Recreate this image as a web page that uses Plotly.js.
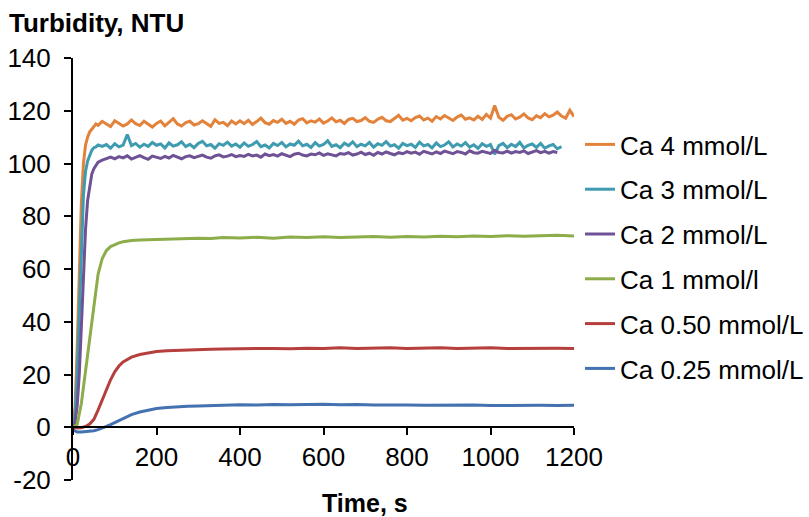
<!DOCTYPE html>
<html><head><meta charset="utf-8">
<script src="https://cdn.plot.ly/plotly-3.0.1.min.js"></script>
<style>html,body{margin:0;padding:0;background:#fff}#chart{width:809px;height:517px}</style>
</head><body><div id="chart"></div>
<script>
// Time grid for the noisy (fast) series, s
const tNoisy = [0,5,10,15,20,25,30,35,40,45,50,55,60,
70,80,90,100,110,120,130,140,150,160,170,180,190,200,210,220,230,240,250,260,270,280,290,300,310,320,330,340,350,360,370,380,390,400,
410,420,430,440,450,460,470,480,490,500,510,520,530,540,550,560,570,580,590,600,610,620,630,640,650,660,670,680,690,700,710,720,730,740,750,760,770,780,790,800,
810,820,830,840,850,860,870,880,890,900,910,920,930,940,950,960,970,980,990,1000,1010,1020,1030,1040,1050,1060,1070,1080,1090,1100,1110,1120,1130,1140,1150,1160,1170,1180,1190,1200];
// Time grid for the smooth series, s
const tSmooth = [0,10,20,30,40,50,60,70,80,90,100,110,120,140,160,180,200,225,250,275,300,330,360,400,440,480,520,560,600,640,680,720,760,800,840,880,920,960,1000,1040,1080,1120,1160,1200];

const ca4 = [0,8,30,60,85,100,107,110,112,113,114,115,114.5,
116,115,114,116.2,115.3,114.2,115,116.5,115.1,114.4,116,115,113.8,115.2,116.1,114.3,115.6,117,115,114.2,115.5,116,114.6,115.1,116.2,115,114.1,116.6,115.2,115.6,114.3,116.1,115,116.2,
115.1,116.4,114.8,115.9,117.2,115.5,114.9,116.3,115.6,116.8,115.2,116,114.9,116.5,117,115.4,116.2,115.7,116.9,115.3,116.1,117.3,115.8,116.4,115.2,116.7,117.1,115.9,116.3,117.4,116,115.6,116.8,117.5,116.2,115.9,117,118.3,116.4,117.1,
116.2,117.4,118,116.5,117.2,116,117.8,116.9,118.2,117.1,116.3,117.6,118.4,116.8,117.3,116.5,117.9,116.7,118.6,117.2,122,117.5,116.4,117.9,118.5,116.9,117.6,118.8,117.3,116.6,118.1,117.4,118.9,117.7,118.3,119.5,118,117.2,120.2,117.8];

const ca3 = [0,5,20,45,70,88,97,101,103,105,106,106.3,107,
106.5,107.2,105.8,107.5,106.3,107,111,106.8,107.6,106.2,107.3,106.5,108,106.9,107.4,105.9,107.8,106.6,107.1,108.2,106.4,107.3,106,107.6,108.4,106.7,107.2,105.8,107.5,106.9,108.1,106.6,107.4,106.2,
107.8,106.5,107.2,108.3,106.4,107,105.9,107.6,106.8,108,106.3,107.4,106.9,108.5,106.7,107.3,106.1,107.9,106.6,107.2,108.6,106.5,107.1,106,107.7,106.8,108.2,106.4,107.3,106.7,108,106.2,107.5,106.9,108.3,106.6,107.1,105.8,107.6,106.8,
107.3,106.1,108.1,106.7,107.2,105.9,107.8,106.4,107,108.2,106.3,107.4,106.6,107.9,106.2,107.1,105.7,107.5,106.5,107.2,103.5,106.8,107.6,106,107.3,106.4,108,105.9,106.9,107.4,106.1,107.6,105.8,106.7,107.2,105.6,106.4];

const ca2 = [0,2,8,20,38,58,75,86,92,96,98,99.5,100.5,
101.3,101.9,102.4,101.8,102.6,102.1,102.9,101.7,102.5,103,102.2,101.6,102.8,102.3,101.9,102.7,102.1,103.1,102.4,101.8,102.6,102.9,102.2,102.7,103.2,102.4,102,102.9,103.3,102.5,102.8,103.4,102.6,103,
102.7,103.5,102.9,103.2,102.4,103.6,103,103.4,102.8,103.7,103.1,102.6,103.5,103.9,103.2,102.9,103.6,103.3,104,103.1,103.7,103.4,102.9,103.8,103.5,104.1,103.2,103.6,104.3,103.4,103.9,103.1,104.2,103.6,104.4,103.8,103.3,104.1,103.7,104.5,
103.9,104.3,103.5,104.6,104,103.6,104.4,103.8,104.7,104.1,103.7,104.5,104.2,103.6,104.8,104.1,103.9,104.6,104.3,103.8,104.9,104.2,104,104.7,103.9,104.5,104.2,104.8,103.8,104.4,104.9,104.1,104.6,103.9,104.5,104.2];

const ca1 = [0,1,9,21,33,46,58,64,67,68.5,69.3,69.9,70.3,70.8,71,71.1,71.3,71.4,71.6,71.5,71.7,71.6,71.9,71.8,72,71.7,72.1,71.9,72.2,71.9,72.1,72.3,72,72.3,72.1,72.4,72.2,72.5,72.3,72.6,72.4,72.6,72.8,72.5];

const ca050 = [0,-0.3,-0.2,0.3,1.2,3,6.5,10.5,14.5,18,21,23.2,24.8,26.6,27.6,28.2,28.7,29,29.2,29.4,29.5,29.6,29.7,29.8,29.7,29.9,29.8,30,29.9,30.1,29.9,30,30.1,29.9,30,30.1,29.9,30,30.1,29.9,30,29.9,30,29.9];

const ca025 = [-1,-1.8,-1.8,-1.7,-1.6,-1.3,-0.9,-0.4,0.3,1,1.8,2.7,3.5,4.8,5.8,6.5,7.1,7.5,7.8,8,8.1,8.3,8.4,8.5,8.4,8.6,8.5,8.6,8.7,8.5,8.6,8.4,8.5,8.4,8.3,8.4,8.3,8.4,8.2,8.3,8.2,8.3,8.2,8.3];

const names = ['Ca 4 mmol/L','Ca 3 mmol/L','Ca 2 mmol/L','Ca 1 mmol/l','Ca 0.50 mmol/L','Ca 0.25 mmol/L'];
const colors = ['#E3823A','#3E9BB0','#6F5295','#8CAD4A','#B53F3C','#4471AF'];

const yTickVals = [-20,0,20,40,60,80,100,120,140];
const yTickText = ['-20','0','20','40','60','80','100','120','140'];
const xTickVals = [0,200,400,600,800,1000,1200];
const xTickText = ['0','200','400','600','800','1000','1200'];

const series = [
  {x: tNoisy.slice(0, ca4.length), y: ca4},
  {x: tNoisy.slice(0, ca3.length), y: ca3},
  {x: tNoisy.slice(0, ca2.length), y: ca2},
  {x: tSmooth, y: ca1},
  {x: tSmooth, y: ca050},
  {x: tSmooth, y: ca025}
];

const data = series.map((s, i) => ({
  x: s.x, y: s.y, type: 'scatter', mode: 'lines', name: names[i],
  legendgroup: 'g' + i,
  line: {color: colors[i], width: 3}
}));

const font = 'Liberation Sans, Arial, sans-serif';
const layout = {
  width: 809, height: 517,
  margin: {l: 73, r: 235, t: 58, b: 37},
  paper_bgcolor: '#fff', plot_bgcolor: '#fff',
  font: {family: font, size: 26, color: '#000'},
  showlegend: true,
  title: {text: '<b>Turbidity, NTU</b>', xref: 'container', yref: 'container',
          x: 9/809, xanchor: 'left', y: 1 - 23/517, yanchor: 'middle',
          font: {family: font, size: 26, color: '#000'}},
  xaxis: {range: [0, 1200], tickmode: 'array', tickvals: xTickVals, ticktext: xTickText,
          showgrid: false, zeroline: false,
          showline: true, linecolor: '#000', linewidth: 2,
          ticks: 'outside', ticklen: 7, tickwidth: 2, tickcolor: '#000',
          anchor: 'free', position: 0.125,
          tickfont: {family: font, size: 26, color: '#000'}},
  yaxis: {range: [-20, 140], tickmode: 'array', tickvals: yTickVals, ticktext: yTickText,
          showgrid: false, zeroline: false,
          showline: true, linecolor: '#000', linewidth: 2,
          ticks: 'outside', ticklen: 7, tickwidth: 2, tickcolor: '#000',
          ticklabelstandoff: 8,
          tickfont: {family: font, size: 26, color: '#000'}},
  legend: {xref: 'container', yref: 'container', x: 580/809, xanchor: 'left',
           y: 1 - 121/517, yanchor: 'top', traceorder: 'grouped', tracegroupgap: 8,
           maxheight: 480,
           font: {family: font, size: 26, color: '#000'}, bgcolor: 'rgba(0,0,0,0)'},
  annotations: [{text: '<b>Time, s</b>', xref: 'paper', yref: 'paper',
                 x: (365-73)/501, y: (480-503)/422, xanchor: 'center', yanchor: 'middle',
                 showarrow: false, font: {family: font, size: 25, color: '#000'}}]
};

Plotly.newPlot('chart', data, layout, {displayModeBar: false, staticPlot: true});
</script>
</body></html>
